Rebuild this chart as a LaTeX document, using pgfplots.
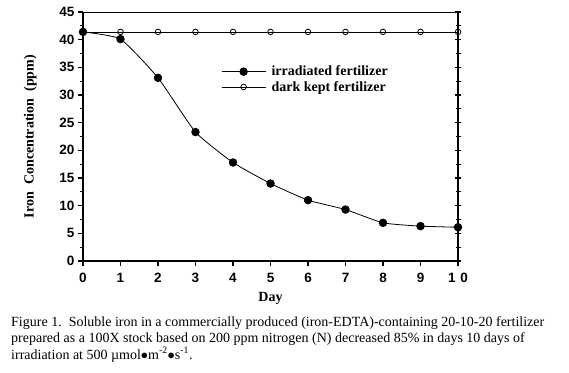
\documentclass[border=0pt]{standalone}
\usepackage{pgfplots}
\pgfplotsset{compat=1.18}
\usepackage{fontspec}
\setmainfont{Liberation Serif}
\newfontfamily\arial{Liberation Sans}
\begin{document}
\begin{tikzpicture}
\useasboundingbox (0pt,0pt) rectangle (569pt,372pt);
\begin{axis}[
  at={(83pt,111pt)}, anchor=south west,
  scale only axis, width=375pt, height=249pt,
  xmin=0, xmax=10, ymin=0, ymax=45,
  axis x line*=bottom, axis y line*=left,
  axis line style={line width=1.6pt},
  xtick={0,1,...,10},
  xticklabels={0,1,2,3,4,5,6,7,8,9,1\,\,0},
  ytick={0,5,...,45},
  minor y tick num=1,
  tick align=outside,
  major tick length=5pt, minor tick length=3pt,
  every tick/.style={line width=1.2pt, black},
  /pgf/number format/assume math mode=true,
  ticklabel style={font=\arial\bfseries\fontsize{13.5}{14}\selectfont},
  xticklabel style={yshift=-4pt},
  xlabel={\textbf{Day}}, ylabel={\textbf{Iron\ \ Concentration\ \ (ppm)}},
  label style={font=\fontsize{14}{15}\selectfont},
  xlabel style={yshift=-2pt},
  ylabel style={yshift=16pt},
  clip=false,
  legend style={at={(0.36,0.80)}, anchor=north west, draw=none, fill=none,
    font=\bfseries\fontsize{14}{15}\selectfont, row sep=0pt,
    legend cell align=left},
  legend image code/.code={\draw[mark repeat=2,mark phase=2,#1] plot coordinates {(0pt,0pt) (22pt,0pt) (44pt,0pt)};},
]
\addplot[black, line width=0.8pt, smooth, tension=0.3, mark=*, mark size=3.8pt, mark options={solid, fill=black}]
  coordinates {(0,41.4) (1,40.1) (2,33.1) (3,23.3) (4,17.8) (5,14.0) (6,11.0) (7,9.3) (8,6.9) (9,6.3) (10,6.1)};
\addlegendentry{\ irradiated fertilizer}
\addplot[black, line width=0.8pt, mark=o, mark size=2.8pt, mark options={solid, fill=white}]
  coordinates {(0,41.4) (1,41.4) (2,41.4) (3,41.4) (4,41.4) (5,41.4) (6,41.4) (7,41.4) (8,41.4) (9,41.4) (10,41.4)};
\addlegendentry{\ dark kept fertilizer}
\end{axis}
\begin{axis}[
  at={(83pt,111pt)}, anchor=south west,
  scale only axis, width=375pt, height=249pt,
  xmin=0, xmax=10, ymin=0, ymax=45,
  axis x line*=top, axis y line*=right,
  x axis line style={line width=0.8pt},
  y axis line style={line width=1.4pt},
  xtick=\empty,
  ytick={0,5,...,45}, yticklabels={},
  minor y tick num=1,
  tick align=center,
  major tick length=6pt, minor tick length=5pt,
  every tick/.style={line width=1.2pt, black},
]
\end{axis}
\node[anchor=north west, inner sep=0pt, align=left, font=\fontsize{14}{16.5}\selectfont] at (11pt,56pt)
{Figure 1.\ \ Soluble iron in a commercially produced (iron-EDTA)-containing 20-10-20 fertilizer\\
prepared as a 100X stock based on 200 ppm nitrogen (N) decreased 85\% in days 10 days of\\
irradiation at 500 \textmu mol$\bullet$m\textsuperscript{-2}$\bullet$s\textsuperscript{-1}.};
\end{tikzpicture}
\end{document}
